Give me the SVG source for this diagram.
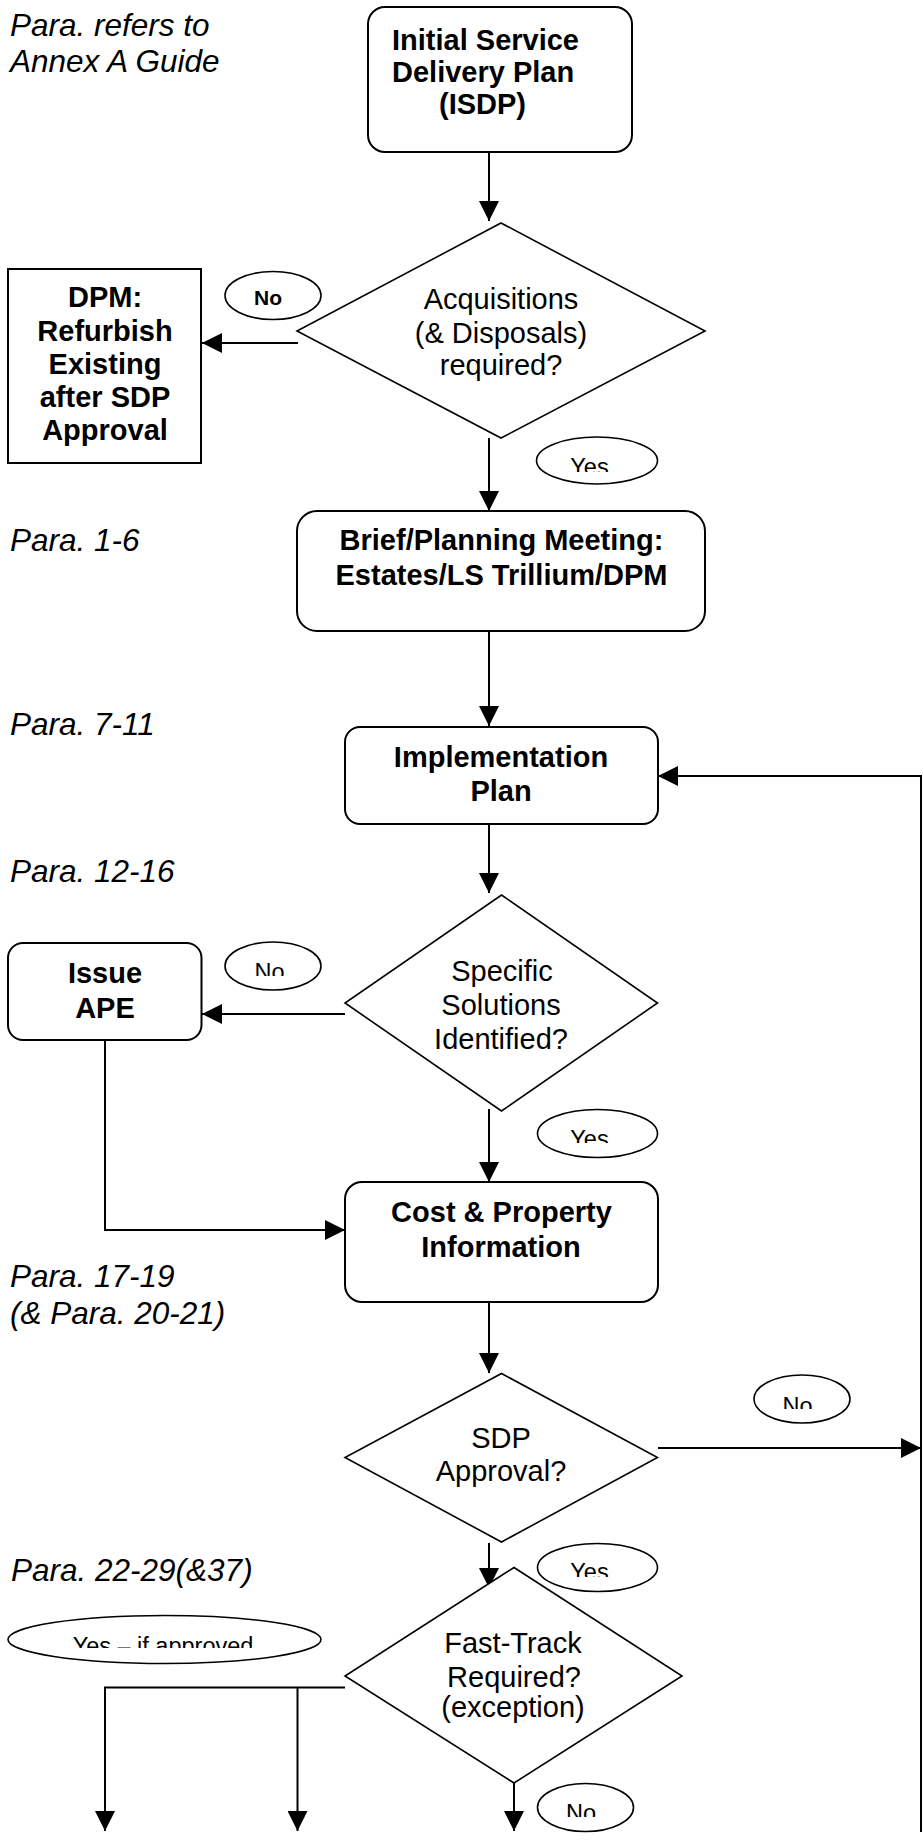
<svg xmlns="http://www.w3.org/2000/svg" width="923" height="1843" viewBox="0 0 923 1843">
<style>
text { fill: #000; font-family: "Liberation Sans", Arial, sans-serif; }
.it { font-style: italic; font-size: 31.5px; }
.b { font-weight: bold; font-size: 29px; }
.r { font-size: 29px; }
.lbl { font-size: 23.5px; }
.lblb { font-weight: bold; font-size: 21px; }
.c { text-anchor: middle; }
.box { fill: #fff; stroke: #000; stroke-width: 2; }
.dia { fill: #fff; stroke: #000; stroke-width: 1.6; }
.ell { fill: #fff; stroke: #000; stroke-width: 1.6; }
.con { fill: none; stroke: #000; stroke-width: 2; }
.arr { marker-end: url(#ah); }
</style>
<defs>
<marker id="ah" markerUnits="userSpaceOnUse" markerWidth="20" markerHeight="20" refX="20" refY="10" orient="auto">
<path d="M0,0 L20,10 L0,20 z" fill="#000"/>
</marker>
<clipPath id="cYes1"><rect x="537" y="437" width="121" height="35"/></clipPath>
<clipPath id="cNo2"><rect x="224" y="941" width="98" height="35"/></clipPath>
<clipPath id="cYes2"><rect x="537" y="1109" width="121" height="34"/></clipPath>
<clipPath id="cNo3"><rect x="754" y="1375" width="97" height="34"/></clipPath>
<clipPath id="cYes3"><rect x="537" y="1543" width="121" height="34"/></clipPath>
<clipPath id="cYesIf"><rect x="8" y="1615" width="314" height="33"/></clipPath>
<clipPath id="cNo4"><rect x="537" y="1783" width="97" height="34"/></clipPath>
</defs>
<rect width="923" height="1843" fill="#fff"/>

<g id="notes">
<text class="it" x="10" y="36">Para. refers to</text>
<text class="it" x="10" y="72">Annex A Guide</text>
<text class="it" x="10" y="551">Para. 1-6</text>
<text class="it" x="10" y="735">Para. 7-11</text>
<text class="it" x="10" y="882">Para. 12-16</text>
<text class="it" x="10" y="1287">Para. 17-19</text>
<text class="it" x="10" y="1324">(&amp; Para. 20-21)</text>
<text class="it" x="11" y="1581">Para. 22-29(&amp;37)</text>
</g>

<g id="connectors">
<line class="con arr" x1="489" y1="152" x2="489" y2="221"/>
<line class="con arr" x1="298" y1="343" x2="202" y2="343"/>
<line class="con arr" x1="489" y1="438" x2="489" y2="511"/>
<line class="con arr" x1="489" y1="631" x2="489" y2="726"/>
<line class="con arr" x1="489" y1="824" x2="489" y2="893"/>
<line class="con arr" x1="345" y1="1014" x2="202" y2="1014"/>
<line class="con arr" x1="489" y1="1109" x2="489" y2="1182"/>
<polyline class="con arr" points="105,1040 105,1230 345,1230"/>
<line class="con arr" x1="489" y1="1302" x2="489" y2="1373"/>
<line class="con arr" x1="658" y1="1448" x2="921" y2="1448"/>
<polyline class="con arr" points="921,1832 921,776 658,776"/>
<line class="con arr" x1="489" y1="1543" x2="489" y2="1588"/>
<polyline class="con arr" points="345,1687.5 105,1687.5 105,1831"/>
<line class="con arr" x1="297.5" y1="1687.5" x2="297.5" y2="1831"/>
<line class="con arr" x1="514" y1="1783" x2="514" y2="1831"/>
</g>

<g id="isdp">
<rect class="box" x="368" y="7" width="264" height="145" rx="17"/>
<text class="b" x="392" y="50">Initial Service</text>
<text class="b" x="392" y="82">Delivery Plan</text>
<text class="b" x="439" y="114">(ISDP)</text>
</g>

<g id="acq">
<polygon class="dia" points="501,223 705,331 501,438 297,331"/>
<text class="r c" x="501" y="309">Acquisitions</text>
<text class="r c" x="501" y="342.5">(&amp; Disposals)</text>
<text class="r c" x="501" y="375">required?</text>
</g>

<g id="dpm">
<rect class="box" x="8" y="269" width="193" height="194"/>
<text class="b c" x="105" y="307">DPM:</text>
<text class="b c" x="105" y="340.5">Refurbish</text>
<text class="b c" x="105" y="373.5">Existing</text>
<text class="b c" x="105" y="406.5">after SDP</text>
<text class="b c" x="105" y="440">Approval</text>
</g>

<g id="lbl-no1">
<ellipse class="ell" cx="273" cy="295.5" rx="48" ry="24"/>
<text class="lblb c" x="268" y="304.5">No</text>
</g>

<g id="lbl-yes1">
<ellipse class="ell" cx="597" cy="460.5" rx="60.5" ry="23.5"/>
<text class="lbl c" x="589.5" y="475" clip-path="url(#cYes1)">Yes</text>
</g>

<g id="brief">
<rect class="box" x="297" y="511" width="408" height="120" rx="20"/>
<text class="b c" x="501.5" y="550">Brief/Planning Meeting:</text>
<text class="b c" x="501.5" y="585">Estates/LS Trillium/DPM</text>
</g>

<g id="impl">
<rect class="box" x="345" y="727" width="313" height="97" rx="15"/>
<text class="b c" x="501" y="767">Implementation</text>
<text class="b c" x="501" y="801">Plan</text>
</g>

<g id="specific">
<polygon class="dia" points="501.5,895 657.5,1003 501.5,1111 345,1003"/>
<text class="r c" x="502" y="980.5">Specific</text>
<text class="r c" x="501" y="1015">Solutions</text>
<text class="r c" x="501" y="1048.5">Identified?</text>
</g>

<g id="ape">
<rect class="box" x="8" y="943" width="193.5" height="97" rx="15"/>
<text class="b c" x="105" y="983">Issue</text>
<text class="b c" x="105" y="1018">APE</text>
</g>

<g id="lbl-no2">
<ellipse class="ell" cx="273" cy="966" rx="48" ry="24"/>
<text class="lbl c" x="269.5" y="980" clip-path="url(#cNo2)">No</text>
</g>

<g id="lbl-yes2">
<ellipse class="ell" cx="597.5" cy="1133.5" rx="60" ry="24"/>
<text class="lbl c" x="589.5" y="1147" clip-path="url(#cYes2)">Yes</text>
</g>

<g id="cost">
<rect class="box" x="345" y="1182" width="313" height="120" rx="17"/>
<text class="b c" x="501.5" y="1222">Cost &amp; Property</text>
<text class="b c" x="501" y="1256.5">Information</text>
</g>

<g id="sdp">
<polygon class="dia" points="501.5,1373.5 657.5,1457.5 501.5,1542 345,1457.5"/>
<text class="r c" x="501" y="1447.5">SDP</text>
<text class="r c" x="501" y="1481">Approval?</text>
</g>

<g id="lbl-no3">
<ellipse class="ell" cx="802" cy="1399" rx="48" ry="24"/>
<text class="lbl c" x="797.5" y="1413.5" clip-path="url(#cNo3)">No</text>
</g>

<g id="lbl-yes3">
<ellipse class="ell" cx="597.5" cy="1567.5" rx="60" ry="24"/>
<text class="lbl c" x="589.5" y="1580" clip-path="url(#cYes3)">Yes</text>
</g>

<g id="fasttrack">
<polygon class="dia" points="514,1567.5 682,1676 514,1783 345,1676"/>
<text class="r c" x="513" y="1653">Fast-Track</text>
<text class="r c" x="514" y="1686.5">Required?</text>
<text class="r c" x="513" y="1716.5">(exception)</text>
</g>

<g id="lbl-yesif">
<ellipse class="ell" cx="164.5" cy="1639.5" rx="156.5" ry="24"/>
<text class="lbl c" x="163" y="1653.5" clip-path="url(#cYesIf)">Yes – if approved</text>
</g>

<g id="lbl-no4">
<ellipse class="ell" cx="585.5" cy="1807.5" rx="48" ry="24"/>
<text class="lbl c" x="581" y="1821" clip-path="url(#cNo4)">No</text>
</g>
</svg>
